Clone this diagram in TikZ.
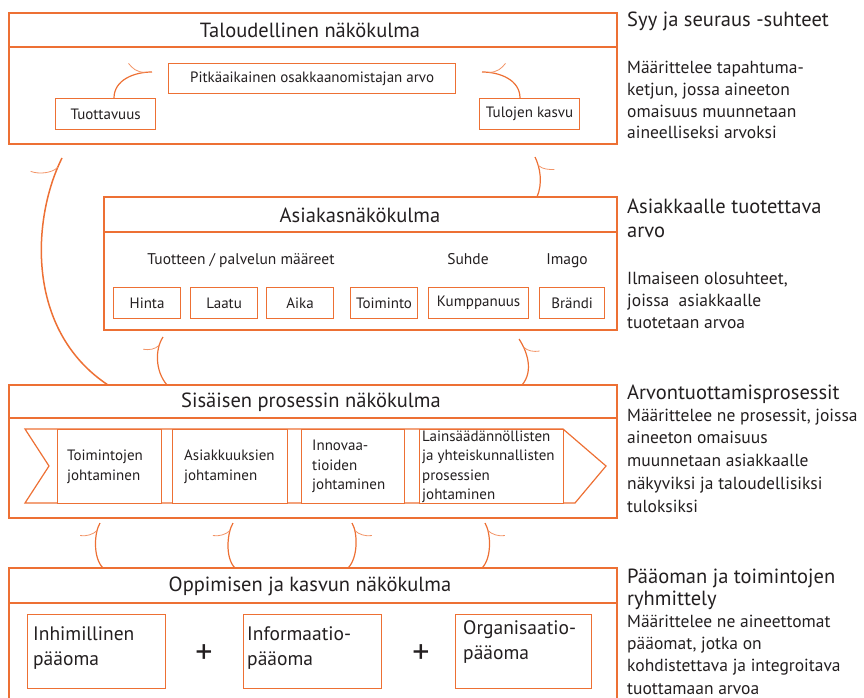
\documentclass[tikz,border=0pt]{standalone}
\usepackage{fontspec}
\setmainfont{PT Sans}
\usetikzlibrary{calc}
\definecolor{orng}{RGB}{237,112,52}
\definecolor{ink}{RGB}{35,31,32}

\tikzset{
  panel/.style={draw=orng,line width=1.4pt},
  cell/.style={draw=orng,line width=1.2pt,fill=white,inner sep=0pt,text=ink},
  flow/.style={draw=orng,line width=1.2pt},
  barb/.style={draw=orng!75,line width=0.8pt},
  ttl/.style={text=ink,font=\fontsize{20.5}{24}\selectfont},
  lbl/.style={text=ink,font=\fontsize{15}{19}\selectfont},
  steptxt/.style={text=ink,anchor=west,align=left,inner sep=0pt,font=\fontsize{15}{19.5}\selectfont},
  captxt/.style={text=ink,anchor=north west,align=left,inner sep=0pt,font=\fontsize{19.5}{25}\selectfont},
  sidehead/.style={text=ink,anchor=base west,align=left,inner sep=0pt,font=\fontsize{20.5}{23.5}\selectfont},
  side/.style={text=ink,anchor=base west,align=left,inner sep=0pt,font=\fontsize{17.5}{21.7}\selectfont},
}

\begin{document}
\begin{tikzpicture}[x=1pt,y=-1pt]
\useasboundingbox (0,0) rectangle (864,698);

% taloudellinen
\draw[panel] (9,13) rectangle (617,144);
\draw[panel] (9,47) -- (617,47);
\node[ttl] (fin) at (310,30) {Taloudellinen näkökulma};
\node[cell,lbl,minimum width=287pt,minimum height=30pt,anchor=north west] (ltv) at (168,63) {Pitkäaikainen osakkaanomistajan arvo};
\node[cell,lbl,minimum width=100pt,minimum height=31pt,anchor=north west] (prod) at (55,98) {Tuottavuus};
\node[cell,lbl,minimum width=100pt,minimum height=31pt,anchor=north west] (grow) at (479,98) {Tulojen kasvu};

% asiakas
\draw[panel] (104,197) rectangle (617,330);
\draw[panel] (104,232) -- (617,232);
\node[ttl] (cust) at (360,215) {Asiakasnäkökulma};
\node[lbl,anchor=base,font=\fontsize{15.5}{19}\selectfont] (attr) at (241,264) {Tuotteen / palvelun määreet};
\node[lbl,anchor=base,font=\fontsize{15.5}{19}\selectfont] (rel) at (468,264) {Suhde};
\node[lbl,anchor=base,font=\fontsize{15.5}{19}\selectfont] (img) at (567,264) {Imago};
\node[cell,lbl,minimum width=67pt,minimum height=31pt,anchor=north west] (price) at (113,287) {Hinta};
\node[cell,lbl,minimum width=67pt,minimum height=31pt,anchor=north west] (qual) at (190,287) {Laatu};
\node[cell,lbl,minimum width=67pt,minimum height=31pt,anchor=north west] (time) at (266,287) {Aika};
\node[cell,lbl,minimum width=67pt,minimum height=31pt,anchor=north west] (func) at (350,287) {Toiminto};
\node[cell,lbl,minimum width=100pt,minimum height=31pt,anchor=north west] (partner) at (428,287) {Kumppanuus};
\node[cell,lbl,minimum width=65pt,minimum height=31pt,anchor=north west] (brand) at (539,287) {Brändi};

% sisainen prosessi
\draw[panel] (9,385) rectangle (617,518);
\draw[panel] (9,418) -- (617,418);
\node[ttl] (proc) at (311,402) {Sisäisen prosessin näkökulma};
\draw[orng,line width=1.2pt] (25,429) -- (563,429) -- (606,466) -- (575,503) -- (25,503) -- (49,466) -- cycle;
\node[cell,minimum width=104pt,minimum height=74pt,anchor=north west] (ops) at (57,429) {};
\node[cell,minimum width=115pt,minimum height=74pt,anchor=north west] (crm) at (172,429) {};
\node[cell,minimum width=103pt,minimum height=74pt,anchor=north west] (inno) at (301,429) {};
\node[cell,minimum width=144pt,minimum height=74pt,anchor=north west] (reg) at (419,429) {};
\node[steptxt] (opstxt) at ($(ops.west)+(10,0)$) {Toimintojen\\johtaminen};
\node[steptxt] (crmtxt) at ($(crm.west)+(12,0)$) {Asiakkuuksien\\johtaminen};
\node[steptxt] (innotxt) at ($(inno.west)+(11,0)$) {Innovaa-\\tioiden\\johtaminen};
\node[steptxt] (regtxt) at ($(reg.west)+(3,0)$) {Lainsäädännöllisten\\ja yhteiskunnallisten\\prosessien\\johtaminen};

% oppiminen ja kasvu
\draw[panel] (9,710) -- (9,568) -- (617,568) -- (617,710);
\draw[panel] (9,603) -- (617,603);
\node[ttl] (learn) at (310,586) {Oppimisen ja kasvun näkökulma};
\node[cell,minimum width=138pt,minimum height=74pt,anchor=north west] (human) at (27,614) {};
\node[cell,minimum width=138pt,minimum height=74pt,anchor=north west] (info) at (243,614) {};
\node[cell,minimum width=136pt,minimum height=74pt,anchor=north west] (org) at (455,614) {};
\node[captxt] (humantxt) at ($(human.north west)+(6,12)$) {Inhimillinen\\pääoma};
\node[captxt] (infotxt) at ($(info.north west)+(4,12)$) {Informaatio-\\pääoma};
\node[captxt] (orgtxt) at ($(org.north west)+(8,6)$) {Organisaatio-\\pääoma};
\node[text=ink,font=\fontsize{34}{34}\selectfont] (plusa) at (204,654) {+};
\node[text=ink,font=\fontsize{34}{34}\selectfont] (plusb) at (421,654) {+};

% nuolet
\coordinate (a1s) at (114,98);  \coordinate (a1e) at (152,72);
\coordinate (a2s) at (520,98);  \coordinate (a2e) at (482,72);
\coordinate (b1s) at (108,385); \coordinate (b1e) at (62,158);
\coordinate (b2s) at (537,197); \coordinate (b2e) at (535,157);
\coordinate (c1s) at (167,385); \coordinate (c1e) at (163,337);
\coordinate (c2s) at (522,385); \coordinate (c2e) at (519,339);
\coordinate (d1s) at (103,568); \coordinate (d1e) at (100,523);
\coordinate (d2s) at (235,568); \coordinate (d2e) at (233,523);
\coordinate (d3s) at (348,568); \coordinate (d3e) at (352,523);
\coordinate (d4s) at (482,568); \coordinate (d4e) at (485,523);

\draw[flow] (a1s) .. controls +(0,-18) and +(-18,0) .. (a1e) coordinate[pos=.88] (a1b);
\draw[barb] (a1b) .. controls +(-9,0) and +(4,5) .. ($(a1b)+(-17,-9)$);
\draw[flow] (a2s) .. controls +(0,-18) and +(18,0) .. (a2e) coordinate[pos=.88] (a2b);
\draw[barb] (a2b) .. controls +(9,0) and +(-4,5) .. ($(a2b)+(17,-9)$);

\draw[flow,line width=1.5pt] (b1s) .. controls +(-83,-55) and +(-30,60) .. (b1e) coordinate[pos=.95] (b1b);
\draw[barb] (b1b) .. controls +(-6,6) and +(8,3) .. ($(b1b)+(-27,4)$);
\draw[flow] (b2s) .. controls +(6,-14) and +(5,10) .. (b2e) coordinate[pos=.75] (b2b);
\draw[barb] (b2b) .. controls +(5,4) and +(-6,0) .. ($(b2b)+(16,4)$);

\draw[flow] (c1s) .. controls +(-12,-14) and +(-8,12) .. (c1e) coordinate[pos=.8] (c1b);
\draw[barb] (c1b) .. controls +(-4,4) and +(6,1) .. ($(c1b)+(-16,4)$);
\draw[flow] (c2s) .. controls +(12,-14) and +(8,12) .. (c2e) coordinate[pos=.8] (c2b);
\draw[barb] (c2b) .. controls +(4,4) and +(-6,1) .. ($(c2b)+(16,4)$);

\draw[flow] (d1s) .. controls +(-10,-10) and +(-6,10) .. (d1e) coordinate[pos=.8] (d1b);
\draw[barb] (d1b) .. controls +(-4,4) and +(6,1) .. ($(d1b)+(-17,5)$);
\draw[flow] (d2s) .. controls +(-10,-10) and +(-6,10) .. (d2e) coordinate[pos=.8] (d2b);
\draw[barb] (d2b) .. controls +(-4,4) and +(6,1) .. ($(d2b)+(-17,5)$);
\draw[flow] (d3s) .. controls +(10,-10) and +(6,10) .. (d3e) coordinate[pos=.8] (d3b);
\draw[barb] (d3b) .. controls +(4,4) and +(-6,1) .. ($(d3b)+(17,5)$);
\draw[flow] (d4s) .. controls +(10,-10) and +(6,10) .. (d4e) coordinate[pos=.8] (d4b);
\draw[barb] (d4b) .. controls +(4,4) and +(-6,1) .. ($(d4b)+(17,5)$);

% selitykset (base = viimeisen rivin perusviiva)
\node[sidehead] (h1) at (627,27) {Syy ja seuraus -suhteet};
\node[side] (t1) at (627,139) {Määrittelee tapahtuma-\\ketjun, jossa aineeton\\omaisuus muunnetaan\\aineelliseksi arvoksi};
\node[sidehead] (h2) at (627,237) {Asiakkaalle tuotettava\\arvo};
\node[side] (t2) at (627,328) {Ilmaiseen olosuhteet,\\joissa\ \ asiakkaalle\\tuotetaan arvoa};
\node[sidehead] (h3) at (627,399) {Arvontuottamisprosessit};
\node[side,font=\fontsize{17.5}{22.7}\selectfont] (t3) at (627,512) {Määrittelee ne prosessit, joissa\\aineeton omaisuus\\muunnetaan asiakkaalle\\näkyviksi ja taloudellisiksi\\tuloksiksi};
\node[sidehead,font=\fontsize{20.5}{22}\selectfont] (h4) at (627,605) {Pääoman ja toimintojen\\ryhmittely};
\node[side,font=\fontsize{17.5}{22.2}\selectfont] (t4) at (627,694) {Määrittelee ne aineettomat\\pääomat, jotka on\\kohdistettava ja integroitava\\tuottamaan arvoa};
\end{tikzpicture}
\end{document}
